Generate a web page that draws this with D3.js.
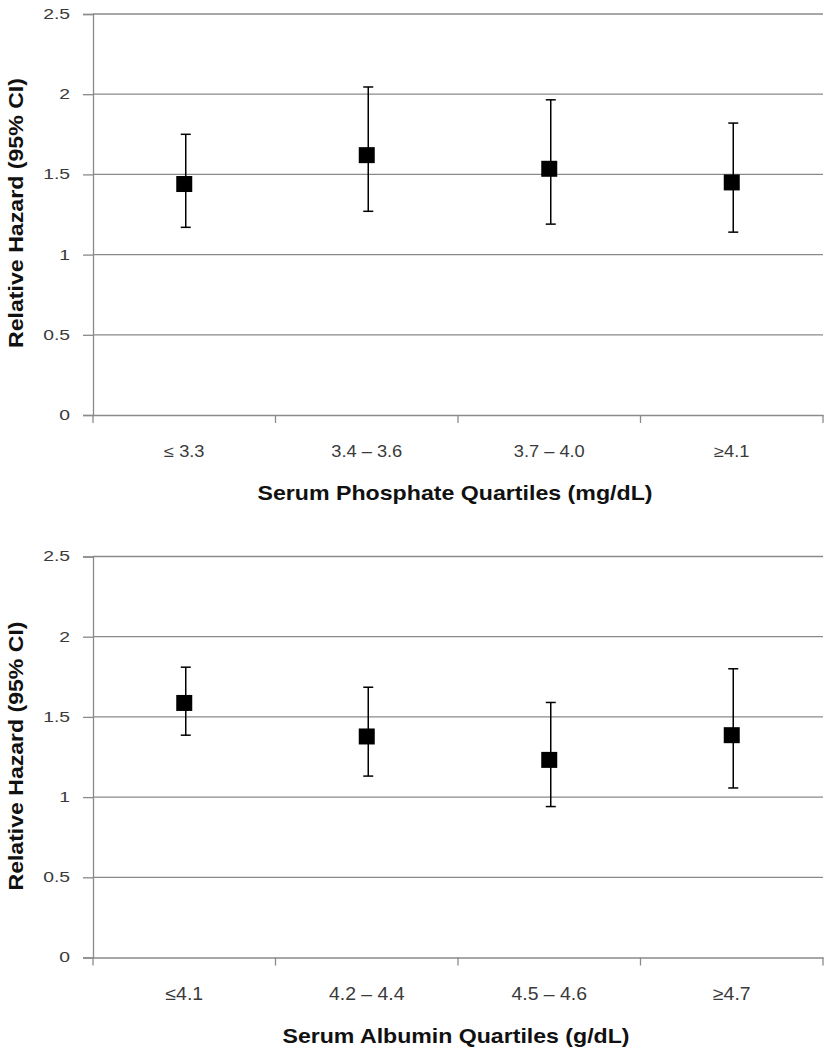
<!DOCTYPE html>
<html><head><meta charset="utf-8">
<script src="https://cdn.jsdelivr.net/npm/d3@7"></script>
<style>body{margin:0;background:#fff}svg{display:block}</style>
</head><body>
<svg id="c" width="827" height="1050"></svg>
<script>
const phosCategories = ["≤ 3.3", "3.4 – 3.6", "3.7 – 4.0", "≥4.1"];
const phosEstimate = [1.44, 1.62, 1.535, 1.45];
const phosLower = [1.17, 1.27, 1.19, 1.14];
const phosUpper = [1.75, 2.045, 1.965, 1.82];

const albCategories = ["≤4.1", "4.2 – 4.4", "4.5 – 4.6", "≥4.7"];
const albEstimate = [1.587, 1.378, 1.232, 1.386];
const albLower = [1.386, 1.131, 0.941, 1.057];
const albUpper = [1.81, 1.685, 1.59, 1.80];

const yTicks = [0, 0.5, 1, 1.5, 2, 2.5];
const yTitle = "Relative Hazard (95% CI)";

const svg = d3.select("#c");
const FONT = "'Liberation Sans', Arial, sans-serif";

function stretch(sel, k) {
  sel.each(function () {
    const w = this.getComputedTextLength();
    this.setAttribute("textLength", w * k);
    this.setAttribute("lengthAdjust", "spacingAndGlyphs");
  });
}

function panel(cfg) {
  const x = d3.scaleBand().domain(cfg.cats).range([93, 823]);
  const y = d3.scaleLinear().domain([0, 2.5]).range([cfg.y0, cfg.y25]);
  const g = svg.append("g");
  g.selectAll("line.grid").data(yTicks.filter(t => t > 0)).join("line")
    .attr("x1", 93).attr("x2", 823)
    .attr("y1", d => y(d)).attr("y2", d => y(d))
    .attr("stroke", "#8a8a8a").attr("stroke-width", 1.3);
  const ya = g.append("g").attr("transform", "translate(93,0)")
    .call(d3.axisLeft(y).tickValues(yTicks).tickSize(10).tickPadding(13).tickFormat(d3.format("")));
  ya.select(".domain").attr("stroke", "#8a8a8a").attr("stroke-width", 1.3);
  ya.selectAll(".tick line").attr("stroke", "#8a8a8a").attr("stroke-width", 1.3);
  const yt = ya.selectAll(".tick text").attr("font-family", FONT)
    .attr("font-size", 14).attr("fill", "#3a3a3a");
  stretch(yt, 1.38);
  const xa = g.append("g").attr("transform", `translate(0,${cfg.y0})`)
    .call(d3.axisBottom(x).tickSize(0));
  xa.select(".domain").attr("stroke", "#8a8a8a").attr("stroke-width", 1.3);
  const xt = xa.selectAll(".tick text").attr("font-family", FONT)
    .attr("font-size", cfg.labSize).attr("fill", "#3a3a3a")
    .attr("y", cfg.labBase - cfg.y0).attr("dy", 0);
  stretch(xt, cfg.labStretch);
  const bounds = cfg.cats.map(c => x(c)).concat([x.range()[1]]);
  g.selectAll("line.xt").data(bounds).join("line")
    .attr("x1", d => d).attr("x2", d => d)
    .attr("y1", cfg.y0).attr("y2", cfg.y0 + 8)
    .attr("stroke", "#8a8a8a").attr("stroke-width", 1.3);
  const cx = c => x(c) + x.bandwidth() / 2;
  const eg = g.append("g");
  cfg.cats.forEach((c, i) => {
    const xx = cx(c) + 1.5;
    eg.append("line").attr("x1", xx).attr("x2", xx)
      .attr("y1", y(cfg.lo[i])).attr("y2", y(cfg.hi[i]))
      .attr("stroke", "#000").attr("stroke-width", 1.5);
    [cfg.lo[i], cfg.hi[i]].forEach(v => {
      eg.append("line").attr("x1", xx - 5).attr("x2", xx + 5)
        .attr("y1", y(v)).attr("y2", y(v))
        .attr("stroke", "#000").attr("stroke-width", 1.5);
    });
  });
  g.selectAll("rect.pt").data(cfg.cats).join("rect")
    .attr("x", c => cx(c) - 8).attr("y", (c, i) => y(cfg.est[i]) - 8)
    .attr("width", 16).attr("height", 16).attr("fill", "#000");
  g.append("text").attr("x", cfg.titleX).attr("y", cfg.titleY)
    .attr("text-anchor", "middle").attr("font-family", FONT)
    .attr("font-weight", "bold").attr("font-size", cfg.titleSize).attr("fill", "#111")
    .attr("textLength", cfg.titleW).attr("lengthAdjust", "spacingAndGlyphs").text(cfg.title);
  g.append("text").attr("transform", `translate(23,${cfg.yTitleY}) rotate(-90)`)
    .attr("text-anchor", "middle").attr("font-family", FONT)
    .attr("font-weight", "bold").attr("font-size", 20).attr("fill", "#111")
    .attr("textLength", cfg.yTitleW).attr("lengthAdjust", "spacingAndGlyphs").text(yTitle);
}

panel({cats: phosCategories, est: phosEstimate, lo: phosLower, hi: phosUpper,
  y0: 415, y25: 14, labBase: 457, labSize: 16, labStretch: 1.14,
  title: "Serum Phosphate Quartiles (mg/dL)", titleX: 455, titleY: 500, titleSize: 21, titleW: 395,
  yTitleY: 213, yTitleW: 270});
panel({cats: albCategories, est: albEstimate, lo: albLower, hi: albUpper,
  y0: 957.5, y25: 556.5, labBase: 1000, labSize: 18, labStretch: 1.08,
  title: "Serum Albumin Quartiles (g/dL)", titleX: 456, titleY: 1043, titleSize: 21, titleW: 347,
  yTitleY: 756, yTitleW: 269});
</script>
</body></html>
